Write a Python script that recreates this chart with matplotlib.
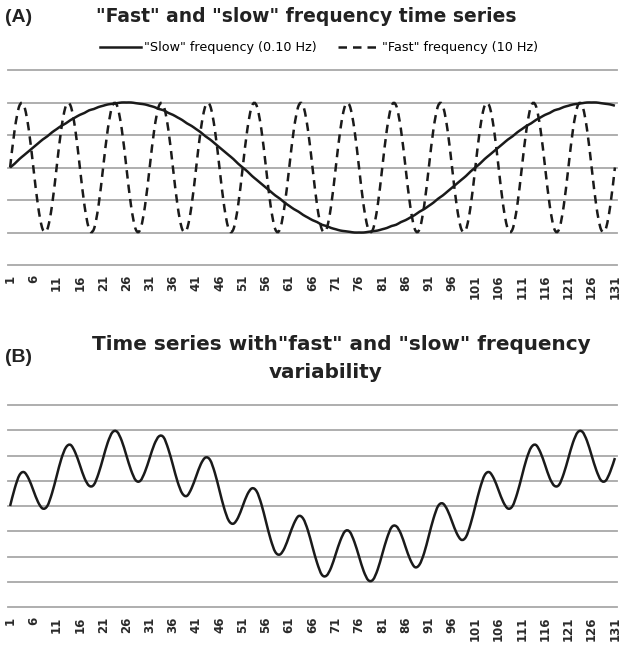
import numpy as np
import matplotlib
matplotlib.use('Agg')
import matplotlib.pyplot as plt
from matplotlib.path import Path
from matplotlib.patches import PathPatch
from matplotlib.lines import Line2D

# ---------------- data ----------------
time_index = list(range(1, 132))

slow_freq = [
    0.00, 0.06, 0.13, 0.19, 0.25, 0.31, 0.37, 0.43, 0.48, 0.54,
    0.59, 0.64, 0.68, 0.73, 0.77, 0.81, 0.84, 0.88, 0.90, 0.93,
    0.95, 0.97, 0.98, 0.99, 1.00, 1.00, 1.00, 0.99, 0.98, 0.97,
    0.95, 0.93, 0.90, 0.88, 0.84, 0.81, 0.77, 0.73, 0.68, 0.64,
    0.59, 0.54, 0.48, 0.43, 0.37, 0.31, 0.25, 0.19, 0.13, 0.06,
    0.00, -0.06, -0.13, -0.19, -0.25, -0.31, -0.37, -0.43, -0.48, -0.54,
    -0.59, -0.64, -0.68, -0.73, -0.77, -0.81, -0.84, -0.88, -0.90, -0.93,
    -0.95, -0.97, -0.98, -0.99, -1.00, -1.00, -1.00, -0.99, -0.98, -0.97,
    -0.95, -0.93, -0.90, -0.88, -0.84, -0.81, -0.77, -0.73, -0.68, -0.64,
    -0.59, -0.54, -0.48, -0.43, -0.37, -0.31, -0.25, -0.19, -0.13, -0.06,
    0.00, 0.06, 0.13, 0.19, 0.25, 0.31, 0.37, 0.43, 0.48, 0.54,
    0.59, 0.64, 0.68, 0.73, 0.77, 0.81, 0.84, 0.88, 0.90, 0.93,
    0.95, 0.97, 0.98, 0.99, 1.00, 1.00, 1.00, 0.99, 0.98, 0.97,
    0.95,
]

fast_freq = [
    0.00, 0.59, 0.95, 0.95, 0.59, 0.00, -0.59, -0.95, -0.95, -0.59,
    0.00, 0.59, 0.95, 0.95, 0.59, 0.00, -0.59, -0.95, -0.95, -0.59,
    0.00, 0.59, 0.95, 0.95, 0.59, 0.00, -0.59, -0.95, -0.95, -0.59,
    0.00, 0.59, 0.95, 0.95, 0.59, 0.00, -0.59, -0.95, -0.95, -0.59,
    0.00, 0.59, 0.95, 0.95, 0.59, 0.00, -0.59, -0.95, -0.95, -0.59,
    0.00, 0.59, 0.95, 0.95, 0.59, 0.00, -0.59, -0.95, -0.95, -0.59,
    0.00, 0.59, 0.95, 0.95, 0.59, 0.00, -0.59, -0.95, -0.95, -0.59,
    0.00, 0.59, 0.95, 0.95, 0.59, 0.00, -0.59, -0.95, -0.95, -0.59,
    0.00, 0.59, 0.95, 0.95, 0.59, 0.00, -0.59, -0.95, -0.95, -0.59,
    0.00, 0.59, 0.95, 0.95, 0.59, 0.00, -0.59, -0.95, -0.95, -0.59,
    0.00, 0.59, 0.95, 0.95, 0.59, 0.00, -0.59, -0.95, -0.95, -0.59,
    0.00, 0.59, 0.95, 0.95, 0.59, 0.00, -0.59, -0.95, -0.95, -0.59,
    0.00, 0.59, 0.95, 0.95, 0.59, 0.00, -0.59, -0.95, -0.95, -0.59,
    0.00,
]

combined = [
    0.00, 0.35, 0.61, 0.67, 0.54, 0.31, 0.08, -0.05, 0.00, 0.25,
    0.59, 0.93, 1.16, 1.21, 1.06, 0.81, 0.55, 0.40, 0.42, 0.64,
    0.95, 1.26, 1.46, 1.47, 1.29, 1.00, 0.71, 0.51, 0.50, 0.68,
    0.95, 1.22, 1.38, 1.36, 1.13, 0.81, 0.48, 0.25, 0.20, 0.35,
    0.59, 0.83, 0.96, 0.91, 0.66, 0.31, -0.04, -0.29, -0.35, -0.23,
    0.00, 0.23, 0.35, 0.29, 0.04, -0.31, -0.66, -0.91, -0.96, -0.83,
    -0.59, -0.35, -0.20, -0.25, -0.48, -0.81, -1.13, -1.36, -1.38, -1.22,
    -0.95, -0.68, -0.50, -0.51, -0.71, -1.00, -1.29, -1.47, -1.46, -1.26,
    -0.95, -0.64, -0.42, -0.40, -0.55, -0.81, -1.06, -1.21, -1.16, -0.93,
    -0.59, -0.25, 0.00, 0.05, -0.08, -0.31, -0.54, -0.67, -0.61, -0.35,
    0.00, 0.35, 0.61, 0.67, 0.54, 0.31, 0.08, -0.05, 0.00, 0.25,
    0.59, 0.93, 1.16, 1.21, 1.06, 0.81, 0.55, 0.40, 0.42, 0.64,
    0.95, 1.26, 1.46, 1.47, 1.29, 1.00, 0.71, 0.51, 0.50, 0.68,
    0.95,
]

tick_positions = [1, 6, 11, 16, 21, 26, 31, 36, 41, 46, 51, 56, 61, 66,
                  71, 76, 81, 86, 91, 96, 101, 106, 111, 116, 121, 126, 131]
tick_labels = ["1", "6", "11", "16", "21", "26", "31", "36", "41", "46",
               "51", "56", "61", "66", "71", "76", "81", "86", "91", "96",
               "101", "106", "111", "116", "121", "126", "131"]

grid_a = [-1.5, -1.0, -0.5, 0.0, 0.5, 1.0, 1.5]
grid_b = [-2.0, -1.5, -1.0, -0.5, 0.0, 0.5, 1.0, 1.5, 2.0]

# ---------------- style ----------------
W, H = 624, 646
GRID = '#a8a8a8'
INK = '#1a1a1a'
TEXT = '#222222'
FONT = ['DejaVu Sans']
PANEL_FONT = ['Liberation Sans', 'DejaVu Sans']
DASH = (0, (3.4, 2.4))


def smooth_path(xs, ys):
    pts = np.column_stack([xs, ys]).astype(float)
    n = len(pts)
    verts = [pts[0]]
    codes = [Path.MOVETO]
    for i in range(n - 1):
        p0 = pts[i - 1] if i > 0 else pts[i]
        p1 = pts[i]
        p2 = pts[i + 1]
        p3 = pts[i + 2] if i + 2 < n else pts[i + 1]
        c1 = p1 + (p2 - p0) / 6.0
        c2 = p2 - (p3 - p1) / 6.0
        verts += [c1, c2, p2]
        codes += [Path.CURVE4] * 3
    return Path(verts, codes)


def px_rect(left, top, right, bottom):
    return [left / W, 1 - bottom / H, (right - left) / W, (bottom - top) / H]


def style_axes(ax, grid_vals):
    for v in grid_vals:
        ax.axhline(v, color=GRID, lw=1.3, clip_on=False, zorder=1)
    for s in ax.spines.values():
        s.set_visible(False)
    ax.set_yticks([])
    ax.set_xticks(tick_positions)
    ax.set_xticklabels(tick_labels, rotation=90, fontsize=8.5,
                       fontweight='bold', family=FONT, color='#2a2a2a')
    ax.tick_params(axis='x', length=0, pad=7)
    ax.set_xlim(0.55, 131.45)
    ax.set_ylim(grid_vals[0], grid_vals[-1])


fig = plt.figure(figsize=(W / 100, H / 100), dpi=100)

# ---------------- panel A ----------------
axA = fig.add_axes(px_rect(8, 70, 617, 265))
style_axes(axA, grid_a)
axA.add_patch(PathPatch(smooth_path(time_index, fast_freq), fill=False,
                        edgecolor=INK, lw=1.8, linestyle=DASH,
                        capstyle='butt', zorder=3))
axA.add_patch(PathPatch(smooth_path(time_index, slow_freq), fill=False,
                        edgecolor=INK, lw=1.8, zorder=4))

fig.text(5 / W, 1 - 18 / H, '(A)', fontsize=14, fontweight='bold',
         family=PANEL_FONT, va='center', ha='left', color=TEXT)
fig.text(306 / W, 1 - 16 / H, '"Fast" and "slow" frequency time series',
         fontsize=13.5, fontweight='bold', family=FONT,
         va='center', ha='center', color=TEXT)

handles = [Line2D([], [], color=INK, lw=1.8),
           Line2D([], [], color=INK, lw=1.8, linestyle=DASH)]
fig.legend(handles, ['"Slow" frequency (0.10 Hz)', '"Fast" frequency (10 Hz)'],
           loc='center', bbox_to_anchor=(319 / W, 1 - 48 / H), ncol=2,
           frameon=False, prop={'family': FONT, 'size': 9.2},
           handlelength=3.2, columnspacing=1.6, handletextpad=0.25,
           borderpad=0.0)

# ---------------- panel B ----------------
axB = fig.add_axes(px_rect(8, 405, 617, 607))
style_axes(axB, grid_b)
axB.add_patch(PathPatch(smooth_path(time_index, combined), fill=False,
                        edgecolor=INK, lw=1.8, zorder=4))

fig.text(5 / W, 1 - 358 / H, '(B)', fontsize=14, fontweight='bold',
         family=PANEL_FONT, va='center', ha='left', color=TEXT)
fig.text(341 / W, 1 - 345 / H, 'Time series with"fast" and "slow" frequency',
         fontsize=14.4, fontweight='bold', family=FONT,
         va='center', ha='center', color=TEXT)
fig.text(326 / W, 1 - 372 / H, 'variability',
         fontsize=14.4, fontweight='bold', family=FONT,
         va='center', ha='center', color=TEXT)

fig.savefig('out.png', dpi=100)
